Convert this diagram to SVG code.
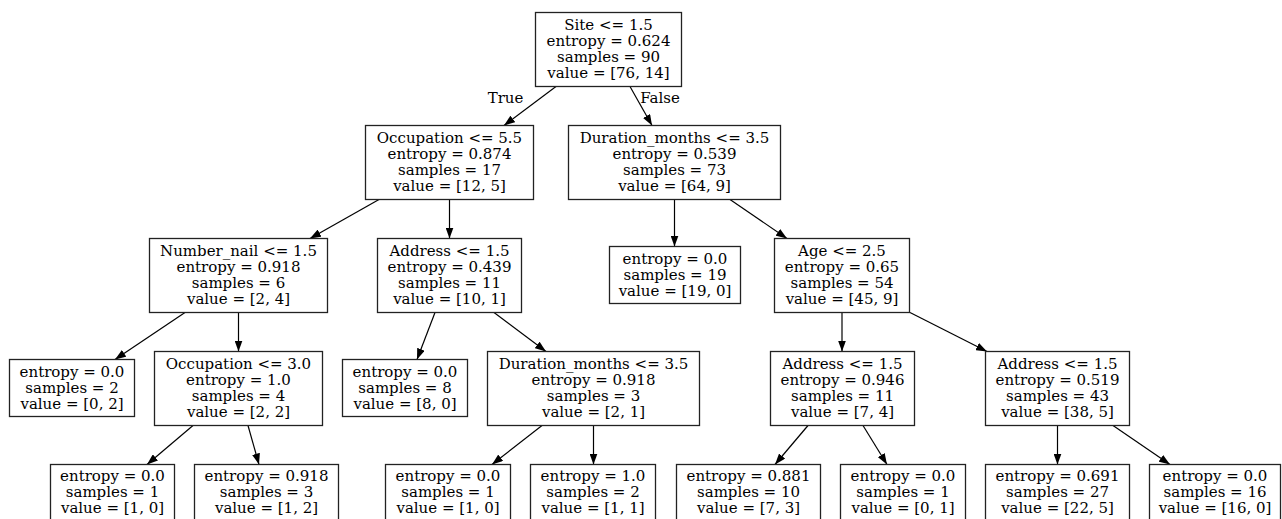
<svg xmlns="http://www.w3.org/2000/svg" width="1282" height="519" viewBox="0 0 1282 519">
<style>
rect.n{fill:#fff;stroke:#222;stroke-width:1.3}
text{font-family:"DejaVu Serif","Liberation Serif",serif;font-size:15px;fill:#000;text-anchor:middle}
.e{fill:none;stroke:#000;stroke-width:1.2;marker-end:url(#ah)}
</style>
<defs>
<marker id="ah" viewBox="0 0 11 8" refX="11" refY="4" markerWidth="11" markerHeight="8" markerUnits="userSpaceOnUse" orient="auto">
<path d="M0,0 L11,4 L0,8 z" fill="#000"/>
</marker>
</defs>
<rect width="1282" height="519" fill="#fff"/>
<g id="connectors">
<path class="e" d="M556,86.5 L504,125.5"/>
<path class="e" d="M630,86.5 L652,125.5"/>
<path class="e" d="M379,199.5 L310,238.5"/>
<path class="e" d="M449.5,199.5 L449.5,238.5"/>
<path class="e" d="M674.5,199.5 L674.5,246.5"/>
<path class="e" d="M730,199.5 L787,238.5"/>
<path class="e" d="M185,312.5 L115,359.5"/>
<path class="e" d="M238.5,312.5 L238.5,351.5"/>
<path class="e" d="M435,312.5 L417,359.5"/>
<path class="e" d="M494,312.5 L546,351.5"/>
<path class="e" d="M842,312.5 L842,351.5"/>
<path class="e" d="M910,312.5 L987,351.5"/>
<path class="e" d="M193,425.5 L147,464.5"/>
<path class="e" d="M248,425.5 L259,464.5"/>
<path class="e" d="M542,425.5 L492,464.5"/>
<path class="e" d="M593.5,425.5 L593.5,464.5"/>
<path class="e" d="M808,425.5 L775,464.5"/>
<path class="e" d="M863,425.5 L887,464.5"/>
<path class="e" d="M1057.5,425.5 L1057.5,464.5"/>
<path class="e" d="M1113,425.5 L1170,464.5"/>
<text x="505.5" y="103">True</text>
<text x="660" y="103">False</text>
</g>
<g id="n0"><rect class="n" x="535.5" y="12.5" width="146" height="74"/>
<text x="608.5" y="29.5">Site &lt;= 1.5</text><text x="608.5" y="45.5">entropy = 0.624</text><text x="608.5" y="61.5">samples = 90</text><text x="608.5" y="77.5">value = [76, 14]</text></g>
<g id="n1"><rect class="n" x="365.5" y="125.5" width="168" height="74"/>
<text x="449.5" y="142.5">Occupation &lt;= 5.5</text><text x="449.5" y="158.5">entropy = 0.874</text><text x="449.5" y="174.5">samples = 17</text><text x="449.5" y="190.5">value = [12, 5]</text></g>
<g id="n12"><rect class="n" x="568.5" y="125.5" width="212" height="74"/>
<text x="674.5" y="142.5">Duration_months &lt;= 3.5</text><text x="674.5" y="158.5">entropy = 0.539</text><text x="674.5" y="174.5">samples = 73</text><text x="674.5" y="190.5">value = [64, 9]</text></g>
<g id="n2"><rect class="n" x="149.5" y="238.5" width="178" height="74"/>
<text x="238.5" y="255.5">Number_nail &lt;= 1.5</text><text x="238.5" y="271.5">entropy = 0.918</text><text x="238.5" y="287.5">samples = 6</text><text x="238.5" y="303.5">value = [2, 4]</text></g>
<g id="n7"><rect class="n" x="377.5" y="238.5" width="144" height="74"/>
<text x="449.5" y="255.5">Address &lt;= 1.5</text><text x="449.5" y="271.5">entropy = 0.439</text><text x="449.5" y="287.5">samples = 11</text><text x="449.5" y="303.5">value = [10, 1]</text></g>
<g id="n13"><rect class="n" x="609.5" y="246.5" width="131" height="57"/>
<text x="675" y="263.5">entropy = 0.0</text><text x="675" y="279.5">samples = 19</text><text x="675" y="295.5">value = [19, 0]</text></g>
<g id="n14"><rect class="n" x="774.5" y="238.5" width="135" height="74"/>
<text x="842" y="255.5">Age &lt;= 2.5</text><text x="842" y="271.5">entropy = 0.65</text><text x="842" y="287.5">samples = 54</text><text x="842" y="303.5">value = [45, 9]</text></g>
<g id="n3"><rect class="n" x="9.5" y="359.5" width="125" height="57"/>
<text x="72" y="376.5">entropy = 0.0</text><text x="72" y="392.5">samples = 2</text><text x="72" y="408.5">value = [0, 2]</text></g>
<g id="n4"><rect class="n" x="154.5" y="351.5" width="168" height="74"/>
<text x="238.5" y="368.5">Occupation &lt;= 3.0</text><text x="238.5" y="384.5">entropy = 1.0</text><text x="238.5" y="400.5">samples = 4</text><text x="238.5" y="416.5">value = [2, 2]</text></g>
<g id="n8"><rect class="n" x="342.5" y="359.5" width="125" height="57"/>
<text x="405" y="376.5">entropy = 0.0</text><text x="405" y="392.5">samples = 8</text><text x="405" y="408.5">value = [8, 0]</text></g>
<g id="n9"><rect class="n" x="487.5" y="351.5" width="212" height="74"/>
<text x="593.5" y="368.5">Duration_months &lt;= 3.5</text><text x="593.5" y="384.5">entropy = 0.918</text><text x="593.5" y="400.5">samples = 3</text><text x="593.5" y="416.5">value = [2, 1]</text></g>
<g id="n15"><rect class="n" x="770.5" y="351.5" width="144" height="74"/>
<text x="842.5" y="368.5">Address &lt;= 1.5</text><text x="842.5" y="384.5">entropy = 0.946</text><text x="842.5" y="400.5">samples = 11</text><text x="842.5" y="416.5">value = [7, 4]</text></g>
<g id="n18"><rect class="n" x="985.5" y="351.5" width="144" height="74"/>
<text x="1057.5" y="368.5">Address &lt;= 1.5</text><text x="1057.5" y="384.5">entropy = 0.519</text><text x="1057.5" y="400.5">samples = 43</text><text x="1057.5" y="416.5">value = [38, 5]</text></g>
<g id="n5"><rect class="n" x="50.5" y="464.5" width="124" height="57"/>
<text x="112.5" y="480.5">entropy = 0.0</text><text x="112.5" y="496.5">samples = 1</text><text x="112.5" y="512.5">value = [1, 0]</text></g>
<g id="n6"><rect class="n" x="194.5" y="464.5" width="144" height="57"/>
<text x="266.5" y="480.5">entropy = 0.918</text><text x="266.5" y="496.5">samples = 3</text><text x="266.5" y="512.5">value = [1, 2]</text></g>
<g id="n10"><rect class="n" x="385.5" y="464.5" width="125" height="57"/>
<text x="448" y="480.5">entropy = 0.0</text><text x="448" y="496.5">samples = 1</text><text x="448" y="512.5">value = [1, 0]</text></g>
<g id="n11"><rect class="n" x="530.5" y="464.5" width="125" height="57"/>
<text x="593" y="480.5">entropy = 1.0</text><text x="593" y="496.5">samples = 2</text><text x="593" y="512.5">value = [1, 1]</text></g>
<g id="n16"><rect class="n" x="676.5" y="464.5" width="144" height="57"/>
<text x="748.5" y="480.5">entropy = 0.881</text><text x="748.5" y="496.5">samples = 10</text><text x="748.5" y="512.5">value = [7, 3]</text></g>
<g id="n17"><rect class="n" x="840.5" y="464.5" width="125" height="57"/>
<text x="903" y="480.5">entropy = 0.0</text><text x="903" y="496.5">samples = 1</text><text x="903" y="512.5">value = [0, 1]</text></g>
<g id="n19"><rect class="n" x="985.5" y="464.5" width="144" height="57"/>
<text x="1057.5" y="480.5">entropy = 0.691</text><text x="1057.5" y="496.5">samples = 27</text><text x="1057.5" y="512.5">value = [22, 5]</text></g>
<g id="n20"><rect class="n" x="1149.5" y="464.5" width="131" height="57"/>
<text x="1215" y="480.5">entropy = 0.0</text><text x="1215" y="496.5">samples = 16</text><text x="1215" y="512.5">value = [16, 0]</text></g>
</svg>
